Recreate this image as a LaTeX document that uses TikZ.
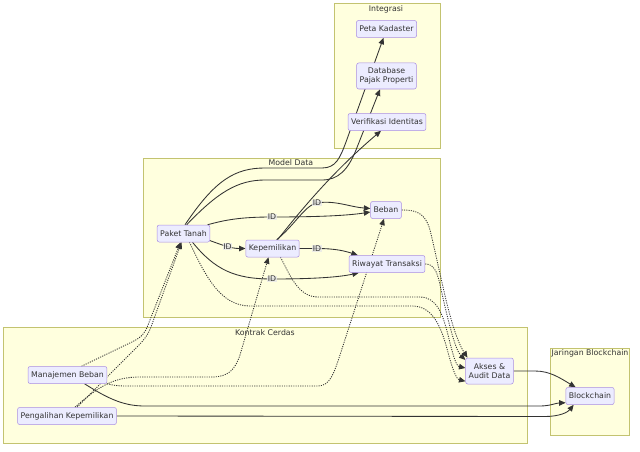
\documentclass[tikz,border=0pt]{standalone}
\usepackage{fontspec}
\setmainfont{DejaVu Sans}
\usepackage{xcolor}
\usetikzlibrary{arrows.meta}
\pgfdeclarelayer{back}
\pgfdeclarelayer{wires}
\pgfsetlayers{back,wires,main}
\definecolor{boxfill}{HTML}{ECECFF}
\definecolor{boxline}{HTML}{9370DB}
\definecolor{grpfill}{HTML}{FFFFDE}
\definecolor{grpline}{HTML}{AAAA33}
\definecolor{ink}{HTML}{333333}
\definecolor{lblfill}{HTML}{E8E8E8}

\begin{document}
\begin{tikzpicture}[x=1pt,y=1pt,font=\fontsize{7.8}{9.2}\selectfont,text=ink,
  box/.style={draw=boxline!80,fill=boxfill,line width=0.5pt,rounded corners=2pt,inner xsep=3pt,inner ysep=2pt,minimum height=17pt,align=center},
  grp/.style={draw=grpline!70,fill=grpfill,line width=0.5pt},
  flow/.style={draw=ink,line width=0.85pt,-{Triangle[length=6.5pt,width=5.5pt]}},
  dots/.style={flow,dash pattern=on 1.1pt off 1.2pt},
  idlbl/.style={fill=lblfill,fill opacity=0.8,text opacity=1,inner sep=0.6pt}]
\useasboundingbox (0,0) rectangle (640,-452);
\begin{pgfonlayer}{back}
\draw[grp] (334,-3) rectangle (440,-148);
\draw[grp] (143,-158) rectangle (440,-317);
\draw[grp] (3,-327) rectangle (527,-443);
\draw[grp] (550,-348) rectangle (629,-435);
\end{pgfonlayer}
\node (tInt) at (386,-9) {Integrasi};
\node (tMod) at (291,-163) {Model Data};
\node (tKon) at (265,-333) {Kontrak Cerdas};
\node (tJar) at (590,-353) {Jaringan Blockchain};

\node[box] (pk) at (386.5,-29) {Peta Kadaster};
\node[box,minimum height=26pt] (dpp) at (386.5,-76) {Database\\Pajak Properti};
\node[box] (vi) at (387,-122) {Verifikasi Identitas};
\node[box] (pt) at (183.5,-233.5) {Paket Tanah};
\node[box] (kp) at (272.5,-248.5) {Kepemilikan};
\node[box] (bb) at (386,-210) {Beban};
\node[box] (rt) at (387,-264) {Riwayat Transaksi};
\node[box] (mb) at (67.5,-375) {Manajemen Beban};
\node[box] (pkp) at (67,-416) {Pengalihan Kepemilikan};
\node[box,minimum height=26pt] (aad) at (489.5,-371) {Akses \&\\Audit Data};
\node[box] (bc) at (590,-396) {Blockchain};

\begin{pgfonlayer}{wires}
\draw[flow] (pt.-15) to[out=-20,in=180] node[idlbl,pos=0.5]{ID} (kp.west);
\draw[flow] (pt.20) .. controls (225,-220) and (240,-217) .. (272,-217) node[idlbl]{ID} .. controls (310,-217) and (345,-216) .. ([yshift=-2pt]bb.west);
\draw[flow] ([xshift=9pt]pt.south) .. controls (215,-270) and (235,-279) .. (272,-279) node[idlbl]{ID} .. controls (315,-279) and (340,-277) .. ([xshift=10pt]rt.south west);
\draw[flow] (kp.65) .. controls (295,-225) and (305,-205) .. (317,-203) node[idlbl]{ID} .. controls (335,-200) and (350,-207) .. ([yshift=1.5pt]bb.west);
\draw[flow] (kp.east) -- (317,-248.5) node[idlbl]{ID} .. controls (335,-248.5) and (345,-251) .. ([xshift=9pt]rt.north west);
\draw[flow] (pt.80) .. controls (215,-180) and (235,-168) .. (265,-168) -- (322,-168) .. controls (336,-168) and (340,-158) .. (346,-142) -- ([xshift=-3pt]pk.south);
\draw[flow] (pt.70) .. controls (218,-192) and (238,-180) .. (265,-180) -- (322,-180) .. controls (338,-180) and (348,-170) .. (356,-150) -- ([xshift=-6.5pt]dpp.south);
\draw[flow] (kp.60) .. controls (305,-205) and (335,-170) .. ([xshift=-6pt]vi.south);
\draw[flow] (aad.east) -- (535,-371) .. controls (550,-371) and (560,-378) .. ([xshift=10pt]bc.north west);
\draw[flow] ([xshift=17pt]mb.south) .. controls (110,-400) and (125,-406) .. (145,-406) -- (540,-406) .. controls (550,-406) and (556,-403) .. ([yshift=2pt]bc.south west);
\draw[flow] (pkp.east) -- (545,-416.5) .. controls (560,-416.5) and (568,-412) .. ([xshift=8pt]bc.south west);
\draw[dots] ([xshift=14pt]mb.north) -- (132,-342) .. controls (142,-337) and (145,-333) .. (148,-325) -- ([xshift=-3pt]pt.south);
\draw[dots] ([xshift=10pt]pkp.north) -- (130,-354) .. controls (140,-344) and (147,-338) .. (151,-327) -- ([xshift=-2pt]pt.south);
\draw[dots] ([xshift=8pt]pkp.north) .. controls (100,-385) and (115,-377) .. (140,-377) -- (212,-377) .. controls (228,-377) and (235,-370) .. (240,-355) -- ([xshift=-4pt]kp.south);
\draw[dots] (mb.south east) .. controls (115,-386) and (120,-386) .. (130,-386) -- (318,-386) .. controls (330,-386) and (334,-373) .. (340,-355) -- ([xshift=-2pt]bb.south);
\draw[dots] ([xshift=6pt]pt.south) .. controls (205,-275) and (220,-306) .. (250,-306) -- (412,-306) .. controls (432,-306) and (440,-325) .. (446,-345) .. controls (452,-368) and (456,-379) .. ([yshift=3pt]aad.south west);
\draw[dots] ([xshift=8pt]kp.south) .. controls (290,-275) and (298,-297) .. (318,-297) -- (420,-297) .. controls (437,-297) and (443,-315) .. (448,-335) .. controls (453,-355) and (456,-366) .. ([yshift=3pt]aad.west);
\draw[dots] (rt.east) .. controls (433,-264) and (437,-270) .. (440,-285) .. controls (448,-320) and (455,-350) .. ([yshift=11pt]aad.west);
\draw[dots] (bb.east) .. controls (415,-210) and (425,-212) .. (430,-230) .. controls (440,-270) and (450,-330) .. ([xshift=2pt]aad.north west);
\end{pgfonlayer}
\end{tikzpicture}
\end{document}
